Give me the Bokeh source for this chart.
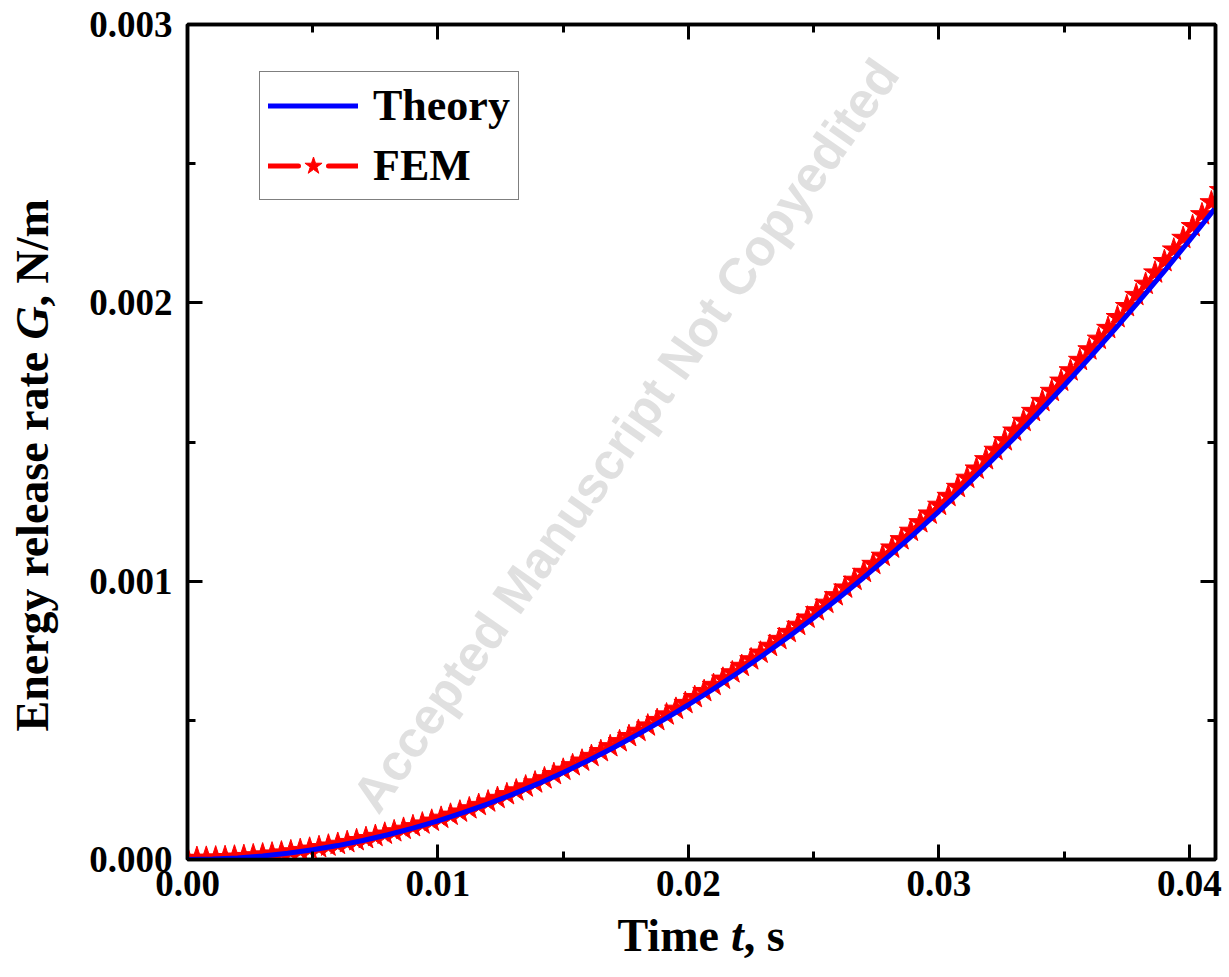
from bokeh.plotting import figure
from bokeh.layouts import row, column
from bokeh.models import (LinearAxis, FixedTicker, PrintfTickFormatter, Range1d,
                          Label, Legend, LegendItem, CustomJSTickFormatter)
from bokeh.core.properties import value
from bokeh.embed import file_html
from bokeh.resources import INLINE

# ---------------- data ----------------
theory_t = [0.000, 0.001, 0.002, 0.003, 0.004, 0.005, 0.006, 0.007, 0.008, 0.009,
            0.010, 0.011, 0.012, 0.013, 0.014, 0.015, 0.016, 0.017, 0.018, 0.019,
            0.020, 0.021, 0.022, 0.023, 0.024, 0.025, 0.026, 0.027, 0.028, 0.029,
            0.030, 0.031, 0.032, 0.033, 0.034, 0.035, 0.036, 0.037, 0.038, 0.039,
            0.040, 0.041]
theory_g = [0.0e-6, 1.4e-6, 5.6e-6, 12.5e-6, 22.2e-6, 34.8e-6, 50.0e-6, 68.1e-6, 89.0e-6, 112.6e-6,
            139.0e-6, 168.2e-6, 200.2e-6, 234.9e-6, 272.4e-6, 312.8e-6, 355.8e-6, 401.7e-6, 450.4e-6, 501.8e-6,
            556.0e-6, 613.0e-6, 672.8e-6, 735.3e-6, 800.6e-6, 868.8e-6, 939.6e-6, 1013.3e-6, 1089.8e-6, 1169.0e-6,
            1251.0e-6, 1335.8e-6, 1423.4e-6, 1513.7e-6, 1606.8e-6, 1702.8e-6, 1801.4e-6, 1902.9e-6, 2007.2e-6, 2114.2e-6,
            2224.0e-6, 2336.6e-6]

fem_t = [0.0, 0.000375, 0.00075, 0.001125, 0.0015, 0.001875, 0.00225, 0.002625, 0.003, 0.003375,
         0.00375, 0.004125, 0.0045, 0.004875, 0.00525, 0.005625, 0.006, 0.006375, 0.00675, 0.007125,
         0.0075, 0.007875, 0.00825, 0.008625, 0.009, 0.009375, 0.00975, 0.010125, 0.0105, 0.010875,
         0.01125, 0.011625, 0.012, 0.012375, 0.01275, 0.013125, 0.0135, 0.013875, 0.01425, 0.014625,
         0.015, 0.015375, 0.01575, 0.016125, 0.0165, 0.016875, 0.01725, 0.017625, 0.018, 0.018375,
         0.01875, 0.019125, 0.0195, 0.019875, 0.02025, 0.020625, 0.021, 0.021375, 0.02175, 0.022125,
         0.0225, 0.022875, 0.02325, 0.023625, 0.024, 0.024375, 0.02475, 0.025125, 0.0255, 0.025875,
         0.02625, 0.026625, 0.027, 0.027375, 0.02775, 0.028125, 0.0285, 0.028875, 0.02925, 0.029625,
         0.03, 0.030375, 0.03075, 0.031125, 0.0315, 0.031875, 0.03225, 0.032625, 0.033, 0.033375,
         0.03375, 0.034125, 0.0345, 0.034875, 0.03525, 0.035625, 0.036, 0.036375, 0.03675, 0.037125,
         0.0375, 0.037875, 0.03825, 0.038625, 0.039, 0.039375, 0.03975, 0.040125, 0.0405, 0.040875,
         0.04125]
fem_g = [5.0e-6, 5.2e-6, 5.8e-6, 6.8e-6, 8.2e-6, 10.0e-6, 12.1e-6, 14.7e-6, 17.7e-6, 21.1e-6,
         24.8e-6, 29.0e-6, 33.6e-6, 38.5e-6, 43.9e-6, 49.6e-6, 55.8e-6, 62.3e-6, 69.2e-6, 76.6e-6,
         84.3e-6, 92.4e-6, 101.0e-6, 109.9e-6, 119.2e-6, 128.9e-6, 139.0e-6, 149.5e-6, 160.5e-6, 171.8e-6,
         183.5e-6, 195.5e-6, 208.0e-6, 220.9e-6, 234.2e-6, 247.9e-6, 262.0e-6, 276.4e-6, 291.3e-6, 306.6e-6,
         322.2e-6, 338.3e-6, 354.8e-6, 371.6e-6, 388.9e-6, 406.5e-6, 424.6e-6, 443.0e-6, 461.8e-6, 481.1e-6,
         500.7e-6, 520.7e-6, 541.1e-6, 562.0e-6, 583.2e-6, 604.8e-6, 626.8e-6, 649.2e-6, 672.0e-6, 695.2e-6,
         718.8e-6, 742.8e-6, 767.2e-6, 792.0e-6, 817.2e-6, 842.7e-6, 868.7e-6, 895.1e-6, 921.9e-6, 949.0e-6,
         976.6e-6, 1004.5e-6, 1032.9e-6, 1061.6e-6, 1090.8e-6, 1120.3e-6, 1150.3e-6, 1180.6e-6, 1211.3e-6, 1242.5e-6,
         1274.0e-6, 1305.9e-6, 1338.2e-6, 1371.0e-6, 1404.1e-6, 1437.6e-6, 1471.5e-6, 1505.8e-6, 1540.5e-6, 1575.6e-6,
         1611.1e-6, 1647.0e-6, 1683.2e-6, 1719.9e-6, 1757.0e-6, 1794.5e-6, 1832.4e-6, 1870.6e-6, 1909.3e-6, 1948.3e-6,
         1987.8e-6, 2027.7e-6, 2067.9e-6, 2108.6e-6, 2149.6e-6, 2191.0e-6, 2232.9e-6, 2275.1e-6, 2317.7e-6, 2360.8e-6,
         2404.2e-6]

x_major = [0.0, 0.01, 0.02, 0.03, 0.04]
x_minor = [0.005, 0.015, 0.025, 0.035]
y_major = [0.0, 0.001, 0.002, 0.003]
y_minor = [0.0005, 0.0015, 0.0025]

series_names = ["Theory", "FEM"]
x_title = ["Time", "t", ", s"]
y_title = ["Energy release rate", "G", ", N/m"]
watermark = "Accepted Manuscript Not Copyedited"

SERIF = "Liberation Serif"
BLUE = "#0000FF"
RED = "#FF0000"
NAN = float("nan")

YT_W = 62          # width of the y-title strip
MAIN_W = 1163      # width of the main figure
MAIN_H = 911       # height of the main figure
H = 975            # total height
XT_H = H - MAIN_H  # height of the x-title strip
FRAME_L, FRAME_R = 187, 1215   # page x of the plot frame

# ---------------- main figure ----------------
p = figure(width=MAIN_W, height=MAIN_H,
           x_range=Range1d(0, 0.04104), y_range=Range1d(0, 0.003),
           output_backend="svg", toolbar_location=None,
           min_border_left=FRAME_L - YT_W, min_border_right=MAIN_W - (FRAME_L - YT_W) - 1028,
           min_border_top=24, min_border_bottom=MAIN_H - 24 - 835,
           background_fill_color="white", border_fill_color="white",
           outline_line_color="black", outline_line_width=3.5, align="start")
p.grid.visible = False


def style_axis(ax, major, minor, fmt, show_labels):
    ax.ticker = FixedTicker(ticks=major, minor_ticks=minor)
    ax.axis_line_width = 3.5
    ax.axis_line_color = "black"
    ax.major_tick_line_width = 3
    ax.minor_tick_line_width = 3
    ax.major_tick_in = 15
    ax.major_tick_out = 0
    ax.minor_tick_in = 8
    ax.minor_tick_out = 0
    ax.major_label_text_font = SERIF
    ax.major_label_text_font_style = "bold"
    ax.major_label_text_color = "black"
    ax.major_label_text_font_size = "37px"
    if show_labels:
        ax.formatter = PrintfTickFormatter(format=fmt)
    else:
        ax.formatter = CustomJSTickFormatter(code="return '';")
        ax.major_label_standoff = 0


style_axis(p.xaxis[0], x_major, x_minor, "%.2f", True)
p.xaxis[0].major_label_standoff = 11
style_axis(p.yaxis[0], y_major, y_minor, "%.3f", True)
p.yaxis[0].major_label_standoff = 15

top = LinearAxis()
style_axis(top, x_major, x_minor, "%.2f", False)
p.add_layout(top, "above")
right = LinearAxis()
style_axis(right, y_major, y_minor, "%.3f", False)
p.add_layout(right, "right")

# watermark (under the data)
p.add_layout(Label(x=438, y=424, x_units="screen", y_units="screen", text=watermark,
                   angle=54.8, angle_units="deg", text_align="center", text_baseline="middle",
                   text_font="Liberation Sans", text_font_style="bold", text_font_size="51px",
                   text_color="#e0e0e0", level="underlay"))

# data
p.line(fem_t, fem_g, line_color=RED, line_width=4, line_dash="14 5")
p.scatter(fem_t, fem_g, marker="star", size=24, fill_color=RED, line_color=RED)
p.line(theory_t, theory_g, line_color=BLUE, line_width=5)

# legend proxies (not drawn in the frame: NaN)
lg_theory = p.line([NAN], [NAN], line_color=BLUE, line_width=5, line_cap="round")
lg_fem_line = p.line([NAN], [NAN], line_color=RED, line_width=5, line_dash="30 30", line_cap="round")
lg_fem_star = p.scatter([NAN], [NAN], marker="star", size=28, fill_color=RED, line_color=RED)

legend = Legend(items=[LegendItem(label=series_names[0], renderers=[lg_theory]),
                       LegendItem(label=series_names[1], renderers=[lg_fem_line, lg_fem_star])],
                location=(72, 659), glyph_width=90, glyph_height=45, label_height=45,
                spacing=9, padding=8, margin=0, label_standoff=15,
                label_text_font=SERIF, label_text_font_style="bold", label_text_font_size="44px",
                label_text_color="black", border_line_color="black", border_line_width=1.5,
                background_fill_color="white", background_fill_alpha=1.0)
p.add_layout(legend, "center")

FS = "46px"

# ---------------- y-title strip (page px coordinates, y up) ----------------
ty = figure(width=YT_W, height=H, x_range=Range1d(0, YT_W),
            y_range=Range1d(0, H), x_axis_type=None, y_axis_type=None,
            output_backend="svg", toolbar_location=None, min_border=0,
            outline_line_color=None, background_fill_color="white",
            border_fill_color="white", align="start")
ty.grid.visible = False
for yy, txt, st in [(H - 731, y_title[0], "bold"),
                    (H - 339, y_title[1], "bold italic"),
                    (H - 306, y_title[2], "bold")]:
    ty.text(x=[32], y=[yy], text=[txt], angle=90, angle_units="deg",
            text_font=value(SERIF), text_font_style=st, text_font_size=FS,
            text_align="left", text_baseline="middle", text_color="black")

# ---------------- x-title strip (its frame is aligned with the main frame) ----------------
tx = figure(width=MAIN_W, height=XT_H, x_range=Range1d(FRAME_L, FRAME_R), y_range=Range1d(0, XT_H),
            x_axis_type=None, y_axis_type=None,
            output_backend="svg", toolbar_location=None, min_border=0,
            outline_line_color=None, background_fill_color="white",
            border_fill_color="white", align="start")
tx.grid.visible = False
mid = XT_H - (935 - MAIN_H)
for xx, txt, st in [(617, x_title[0], "bold"), (730.5, x_title[1], "bold italic"),
                    (743.3, x_title[2], "bold")]:
    tx.text(x=[xx], y=[mid], text=[txt],
            text_font=value(SERIF), text_font_style=st, text_font_size=FS,
            text_align="left", text_baseline="middle", text_color="black")

page = row(ty, column(p, tx, spacing=0, align="start"), spacing=0, align="start")
open("out.html", "w").write(file_html(page, INLINE))
